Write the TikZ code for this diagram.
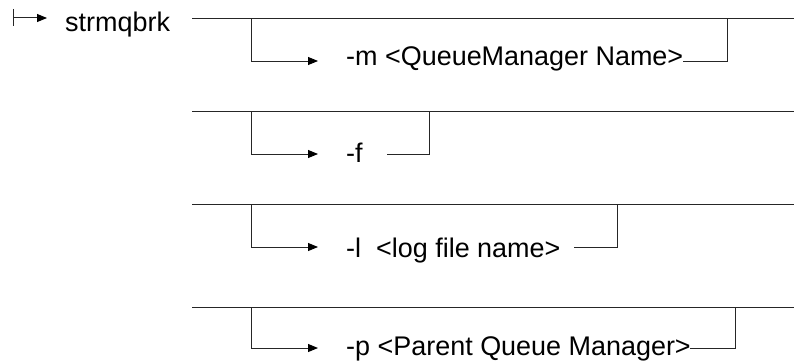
\documentclass[tikz,border=0pt]{standalone}
\usepackage{fontspec}
\setmainfont{Liberation Sans}
\usetikzlibrary{arrows.meta}
\begin{document}
\begin{tikzpicture}[x=1pt,y=-1pt,
  rail/.style={line width=1pt,draw=black!85},
  flow/.style={rail,-{Triangle[length=10pt,width=8pt,color=black]}},
  lbl/.style={anchor=base west,inner sep=0pt,font=\fontsize{26.95}{32}\selectfont}]
\useasboundingbox (0,0) rectangle (794,361);
% start marker
\coordinate (s0) at (13,18);
\coordinate (s1) at (47,18);
\draw[rail] (13,9) -- (13,26);
\draw[flow] (s0) -- (s1);
\node[lbl] (cmd) at (65,32) {strmqbrk};
% rows: main y, low y, baseline, line start, right x
\foreach \r/\ym/\yl/\yb/\xs/\xr/\txt in {
  1/19/61/65/683/727/{-m <QueueManager Name>},
  2/111/154/162/387/429/{-f},
  3/204/247/257/574/617/{-l\ \ <log file name>},
  4/307/348/355/690/735/{-p <Parent Queue Manager>}}{
  \coordinate (m\r a) at (192,\ym);
  \coordinate (m\r b) at (794,\ym);
  \coordinate (b\r top) at (251,\ym);
  \coordinate (b\r low) at (251,\yl);
  \coordinate (a\r end) at (318,\yl);
  \coordinate (r\r start) at (\xs,\yl);
  \coordinate (r\r low) at (\xr,\yl);
  \coordinate (r\r top) at (\xr,\ym);
  \node[lbl] (t\r) at (346,\yb) {\txt};
  \draw[rail] (m\r a) -- (m\r b);
  \draw[flow] (b\r top) -- (b\r low) -- (a\r end);
  \draw[rail] (r\r start) -- (r\r low) -- (r\r top);
}
\end{tikzpicture}
\end{document}
